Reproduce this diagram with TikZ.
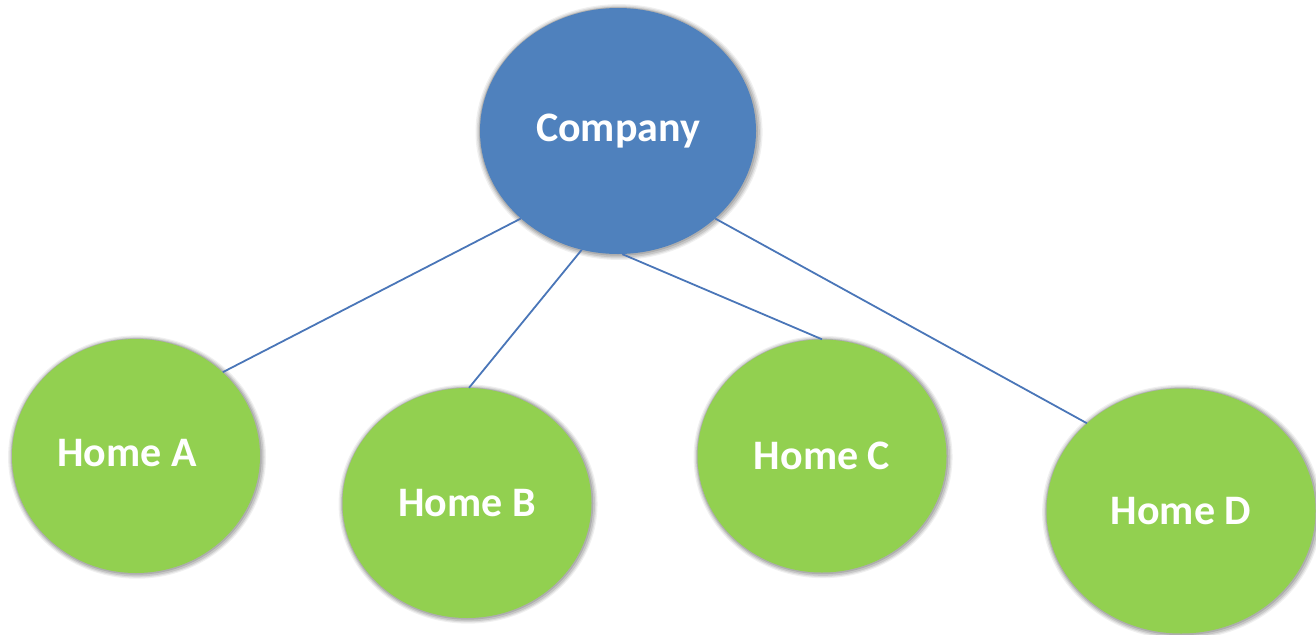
\documentclass[tikz,border=0pt]{standalone}
\usepackage{fontspec}
\setmainfont{Carlito}
\usetikzlibrary{shapes.geometric,shadows}
\definecolor{compblue}{HTML}{4F81BD}
\definecolor{homegreen}{HTML}{92D050}
\definecolor{linkblue}{HTML}{4A76B8}
\begin{document}
\begin{tikzpicture}[x=1pt,y=-1pt,
  soft/.style={
    general shadow={fill=black,opacity=0.06,shadow scale=1.04,shadow xshift=1pt,shadow yshift=-1pt},
    general shadow={fill=black,opacity=0.08,shadow scale=1.03,shadow xshift=1pt,shadow yshift=-1pt},
    general shadow={fill=black,opacity=0.10,shadow scale=1.02,shadow xshift=1pt,shadow yshift=-1pt},
    general shadow={fill=black,opacity=0.12,shadow scale=1.01,shadow xshift=0.5pt,shadow yshift=-0.5pt}},
  bubble/.style={ellipse,soft,inner sep=0pt,text=white,
    font=\fontsize{42}{50}\selectfont\bfseries},
  company/.style={bubble,fill=compblue},
  home/.style={bubble,fill=homegreen},
  link/.style={draw=linkblue,line width=1.8pt}]
  \useasboundingbox (0,0) rectangle (1316,634);

  % company and the four homes
  \node[company,minimum width=276pt,minimum height=246pt] (comp) at (618,131) {Company};
  \node[home,minimum width=248pt,minimum height=234pt,
        label={[text=white,font=\fontsize{42}{50}\selectfont\bfseries,xshift=-9pt,yshift=3pt]center:Home A}]
        (ha) at (136,456) {};
  \node[home,minimum width=249pt,minimum height=230pt] (hb) at (467,503) {Home B};
  \node[home,minimum width=249pt,minimum height=233pt] (hc) at (822,456) {Home C};
  \node[home,minimum width=269pt,minimum height=245pt] (hd) at (1181,511) {Home D};

  % links from the company rim to each home rim
  \draw[link] (comp.222) -- (ha.44);
  \draw[link] (comp.253) -- (hb.89.5);
  \draw[link] (comp.272) -- (hc.90);
  \draw[link] (comp.318) -- (hd.137.6);
\end{tikzpicture}
\end{document}
